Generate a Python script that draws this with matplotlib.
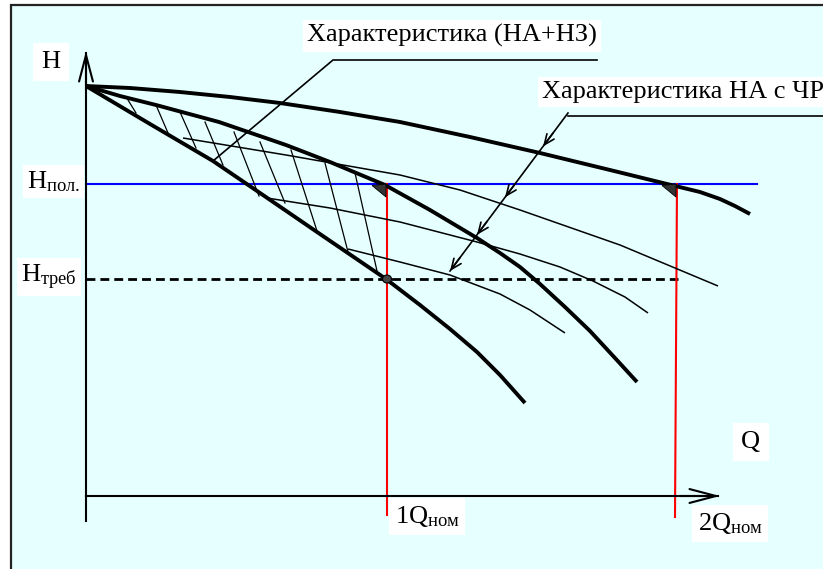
import matplotlib
matplotlib.use("Agg")
import matplotlib.pyplot as plt
from matplotlib.patches import Rectangle, Polygon, Ellipse

plt.rcParams['font.family'] = ['Liberation Serif', 'DejaVu Serif']
plt.rcParams['mathtext.fontset'] = 'custom'
plt.rcParams['mathtext.rm'] = 'Liberation Serif'
plt.rcParams['mathtext.it'] = 'Liberation Serif'

# ---- data (schematic units: Q to the right, H downward in drawing units) ----
q_top = [86, 130, 180, 230, 280, 340, 400, 470, 540, 610, 663, 700, 720, 735, 750]
h_top = [86, 88, 92, 97, 103, 112, 122, 137, 153, 170, 183, 192, 199, 206, 214]

q_mid = [86, 120, 156, 219, 286, 330, 385, 430, 477, 500, 520, 540, 565, 590, 615, 637]
h_mid = [86, 96, 105, 122, 145, 162, 185, 210, 238, 253, 267, 284, 307, 331, 358, 382]

q_bot = [86, 150, 213, 260, 317, 386, 420, 450, 477, 500, 525]
h_bot = [86, 124, 161, 193, 232, 279, 305, 329, 352, 375, 403]

q_thin1 = [183, 286, 400, 460, 520, 620, 718]
h_thin1 = [138, 155, 175, 190, 210, 245, 286]

q_thin2 = [267, 330, 400, 477, 520, 560, 593, 625, 648]
h_thin2 = [198, 208, 222, 242, 254, 267, 281, 297, 313]

q_thin3 = [348, 400, 450, 500, 530, 565]
h_thin3 = [249, 262, 275, 294, 310, 333]

hatch_q0 = [128, 156, 180, 205, 234, 260, 291, 325, 355]
hatch_h0 = [100, 105, 112, 122, 132, 142, 150, 163, 173]
hatch_q1 = [136, 168, 196, 223, 259, 285, 317, 348, 377]
hatch_h1 = [113, 133, 148, 165, 196, 203, 231, 252, 271]

Q_origin, H_origin = 86, 496
Q_axis_end, H_axis_end = 720, 51
Q_nom1, Q_nom2 = 387, 676
H_pol, H_treb = 184, 279

fig = plt.figure(figsize=(8.23, 5.69), dpi=100)
fig.patch.set_facecolor('white')
ax = fig.add_axes([0, 0, 1, 1])
ax.set_xlim(0, 823)
ax.set_ylim(569, 0)
ax.axis('off')

bg = '#E6FFFF'
ax.add_patch(Rectangle((11, 5), 830, 580, facecolor=bg, edgecolor='#222222', lw=1.6, zorder=0))

# axes
ax.plot([Q_origin, Q_origin], [521, H_axis_end + 2], color='black', lw=1.5, zorder=3)
ax.plot([Q_origin, Q_axis_end - 2], [H_origin, H_origin], color='black', lw=1.5, zorder=3)
ax.annotate('', xy=(Q_origin, H_axis_end), xytext=(Q_origin, H_axis_end + 40),
            arrowprops=dict(arrowstyle='->,head_length=1.9,head_width=0.5', lw=1.5, color='black',
                            shrinkA=0, shrinkB=0), zorder=3)
ax.annotate('', xy=(Q_axis_end, H_origin), xytext=(Q_axis_end - 40, H_origin),
            arrowprops=dict(arrowstyle='->,head_length=1.9,head_width=0.5', lw=1.5, color='black',
                            shrinkA=0, shrinkB=0), zorder=3)

# reference lines
ax.plot([Q_origin, 757], [H_pol, H_pol], color='#0000FF', lw=1.5, zorder=2)
ax.plot([Q_origin, 678], [H_treb, H_treb], color='black', lw=2, dashes=(3.2, 1.8), zorder=2)
ax.plot([Q_nom1, Q_nom1], [H_pol, 515], color='#FF0000', lw=1.5, zorder=2)
ax.plot([Q_nom2 + 1, Q_nom2 - 1], [H_pol, 517], color='#FF0000', lw=1.5, zorder=2)

# hatch
for a, b, c, d in zip(hatch_q0, hatch_h0, hatch_q1, hatch_h1):
    ax.plot([a, c], [b, d], color='black', lw=0.9, zorder=2)

# thin curves
for q, h in [(q_thin1, h_thin1), (q_thin2, h_thin2), (q_thin3, h_thin3)]:
    ax.plot(q, h, color='black', lw=1.1, zorder=2, solid_capstyle='butt', solid_joinstyle='round')

# thick curves
for q, h in [(q_top, h_top), (q_mid, h_mid), (q_bot, h_bot)]:
    ax.plot(q, h, color='black', lw=2.8, zorder=4, solid_joinstyle='round', solid_capstyle='butt')

# small triangles at intersections
for qx in [Q_nom1, Q_nom2 + 1]:
    ax.add_patch(Polygon([[qx - 15, H_pol + 1.5], [qx - 1, H_pol], [qx - 1, H_pol + 13]],
                         closed=True, facecolor='#333333', edgecolor='black', lw=0.6, zorder=5))

# operating point
ax.add_patch(Ellipse((Q_nom1, H_treb), 9, 8, facecolor='#444444', edgecolor='black', lw=0.8, zorder=6))

# leaders
ax.plot([213, 333, 597], [161, 60, 60], color='black', lw=1.2, zorder=3)
ax.plot([568, 830], [116, 116], color='black', lw=1.2, zorder=3)
lead_q = [568, 450]
lead_h = [113, 271]
ax.plot(lead_q, lead_h, color='black', lw=1.2, zorder=3)
slope = (lead_h[1] - lead_h[0]) / (lead_q[1] - lead_q[0])
for tq in [543, 505, 477, 450]:
    th = lead_h[0] + (tq - lead_q[0]) * slope
    ax.annotate('', xy=(tq, th), xytext=(tq + 10, th + 10 * slope),
                arrowprops=dict(arrowstyle='->,head_length=0.75,head_width=0.32', lw=1.2,
                                color='black', shrinkA=0, shrinkB=0), zorder=6)

# text
fs = 19
def wbox(p):
    return dict(facecolor='white', edgecolor='none', pad=p)

ax.text(307, 42, 'Характеристика (НА+НЗ)', fontsize=fs, va='baseline', ha='left', bbox=wbox(3), zorder=7)
ax.text(542, 98, 'Характеристика НА с ЧР', fontsize=fs, va='baseline', ha='left', bbox=wbox(3), zorder=7)
ax.text(41, 68, 'H', fontsize=fs, va='baseline', ha='left', bbox=wbox(6), zorder=7)
ax.text(27, 188, 'H$_{\\mathrm{пол.}}$', fontsize=fs, va='baseline', ha='left', bbox=wbox(3), zorder=7)
ax.text(21, 282, 'H$_{\\mathrm{треб}}$', fontsize=fs, va='baseline', ha='left', bbox=wbox(3), zorder=7)
ax.text(741, 448, 'Q', fontsize=fs, va='baseline', ha='left', bbox=wbox(6), zorder=7)
ax.text(395, 523, '1Q$_{\\mathrm{ном}}$', fontsize=fs, va='baseline', ha='left', bbox=wbox(4), zorder=7)
ax.text(698, 530, '2Q$_{\\mathrm{ном}}$', fontsize=fs, va='baseline', ha='left', bbox=wbox(4), zorder=7)

fig.savefig('out.png', dpi=100, facecolor='white')
